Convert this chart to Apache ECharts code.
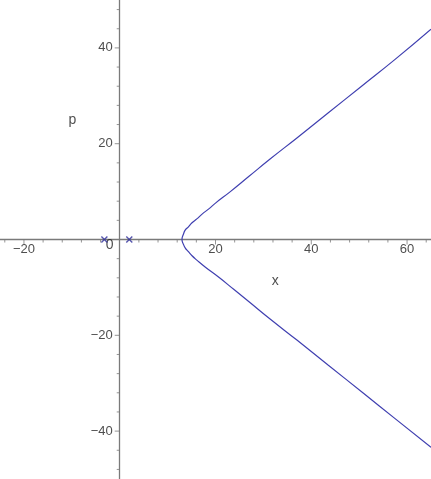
<!DOCTYPE html>
<html>
<head>
<meta charset="utf-8">
<script src="https://cdn.jsdelivr.net/npm/echarts@6/dist/echarts.min.js"></script>
<style>html,body{margin:0;padding:0;background:#fff}#c{width:431px;height:479px}</style>
</head>
<body>
<div id="c"></div>
<script>
// Upper branch (vertex -> upper right)
var upperX = [13.0, 13.3, 13.7, 14.3, 15.1, 16.1, 17.2, 18.6, 20.0, 23.1, 27.0, 31.4, 37.0, 43.5, 50.5, 57.5, 65.0];
var upperP = [0.0, 1.1, 2.0, 2.6, 3.5, 4.3, 5.3, 6.4, 7.6, 10.0, 13.2, 16.8, 21.2, 26.4, 32.0, 37.6, 43.9];
// Lower branch (vertex -> lower right)
var lowerX = [13.0, 13.3, 13.7, 14.3, 15.1, 16.1, 17.9, 20.7, 23.8, 27.0, 31.4, 37.0, 43.5, 50.9, 57.5, 65.0];
var lowerP = [0.0, -1.0, -1.8, -2.5, -3.4, -4.3, -5.8, -7.9, -10.4, -13.0, -16.6, -21.0, -26.2, -32.1, -37.4, -43.4];
// Marked points on the x axis
var markX = [-3.2, 2.0];
var markP = [0, 0];
// Tick labels and tick positions
var xTickLabels = [-20, 20, 40, 60];
var yTickLabels = [-40, -20, 20, 40];
var xMajorTicks = [-20, 20, 40, 60];
var yMajorTicks = [-40, -20, 20, 40];
var xMinorTicks = [-24, -16, -12, -8, -4, 4, 8, 12, 16, 24, 28, 32, 36, 44, 48, 52, 56, 64];
var yMinorTicks = [-48, -44, -36, -32, -28, -24, -16, -12, -8, -4, 4, 8, 12, 16, 24, 28, 32, 36, 44, 48];
// Axis titles and origin label
var annText = ['0', 'x', 'p'];
var annX = [-2.1, 32.5, -9.9];
var annP = [-1.2, -8.7, 25.0];

var curve = [];
for (var i = lowerX.length - 1; i > 0; i--) curve.push([lowerX[i], lowerP[i]]);
for (var j = 0; j < upperX.length; j++) curve.push([upperX[j], upperP[j]]);
var marks = markX.map(function (v, k) { return [v, markP[k]]; });
var ann = annText.map(function (t, k) { return [annX[k], annP[k], t]; });
function onX(arr) { return arr.map(function (v) { return [v, 0]; }); }
function onY(arr) { return arr.map(function (v) { return [0, v]; }); }

var FONT = '"Liberation Sans", Arial, sans-serif';
var AX = '#7a7a7a';
var TXT = '#222';
function fmt(v) { return v < 0 ? '\u2212' + Math.abs(v) : String(v); }
function tickSeries(data, size, offset) {
  return { type: 'scatter', data: data, silent: true, symbol: 'rect', symbolSize: size, symbolOffset: offset,
    itemStyle: { color: AX }, z: 1 };
}
var chart = echarts.init(document.getElementById('c'));
chart.setOption({
  animation: false,
  backgroundColor: '#fff',
  grid: { left: 0, right: 0, top: 0, bottom: 0, containLabel: false, outerBoundsMode: 'none' },
  xAxis: {
    type: 'value', min: -25, max: 65,
    axisLine: { show: true, onZero: true, lineStyle: { color: AX, width: 1.3 } },
    axisTick: { show: false }, axisLabel: { show: false }, splitLine: { show: false }
  },
  yAxis: {
    type: 'value', min: -50, max: 50,
    axisLine: { show: true, onZero: true, lineStyle: { color: AX, width: 1.3 } },
    axisTick: { show: false }, axisLabel: { show: false }, splitLine: { show: false }
  },
  series: [
    tickSeries(onX(xMajorTicks), [1, 5], [0, 2.5]),
    tickSeries(onX(xMinorTicks), [1, 3], [0, 1.5]),
    tickSeries(onY(yMajorTicks), [5, 1], [-2.5, 0]),
    tickSeries(onY(yMinorTicks), [3, 1], [-1.5, 0]),
  {
    type: 'scatter', data: onX(xTickLabels), symbolSize: 0, silent: true,
    label: { show: true, position: 'bottom', distance: 3, color: TXT, fontSize: 13, fontFamily: FONT,
      formatter: function (p) { return fmt(p.value[0]); } }
  }, {
    type: 'scatter', data: onY(yTickLabels), symbolSize: 0, silent: true,
    label: { show: true, position: 'left', distance: 7, color: TXT, fontSize: 13, fontFamily: FONT,
      formatter: function (p) { return fmt(p.value[1]); } }
  }, {
    type: 'line', data: curve, smooth: 0.5, showSymbol: false, symbol: 'none',
    lineStyle: { color: '#3f3fb0', width: 1.2 }, clip: true, z: 3
  }, {
    type: 'scatter', data: marks,
    symbol: 'path://M0,0L10,10M10,0L0,10', symbolSize: 6,
    itemStyle: { color: 'rgba(0,0,0,0)', borderColor: '#2e2e9a', borderWidth: 1.4 }, z: 4
  }, {
    type: 'scatter', data: ann, symbolSize: 0, silent: true,
    label: { show: true, position: 'inside', color: TXT, fontSize: 14, fontFamily: FONT,
      formatter: function (p) { return p.value[2]; } }
  }]
});
</script>
</body>
</html>
